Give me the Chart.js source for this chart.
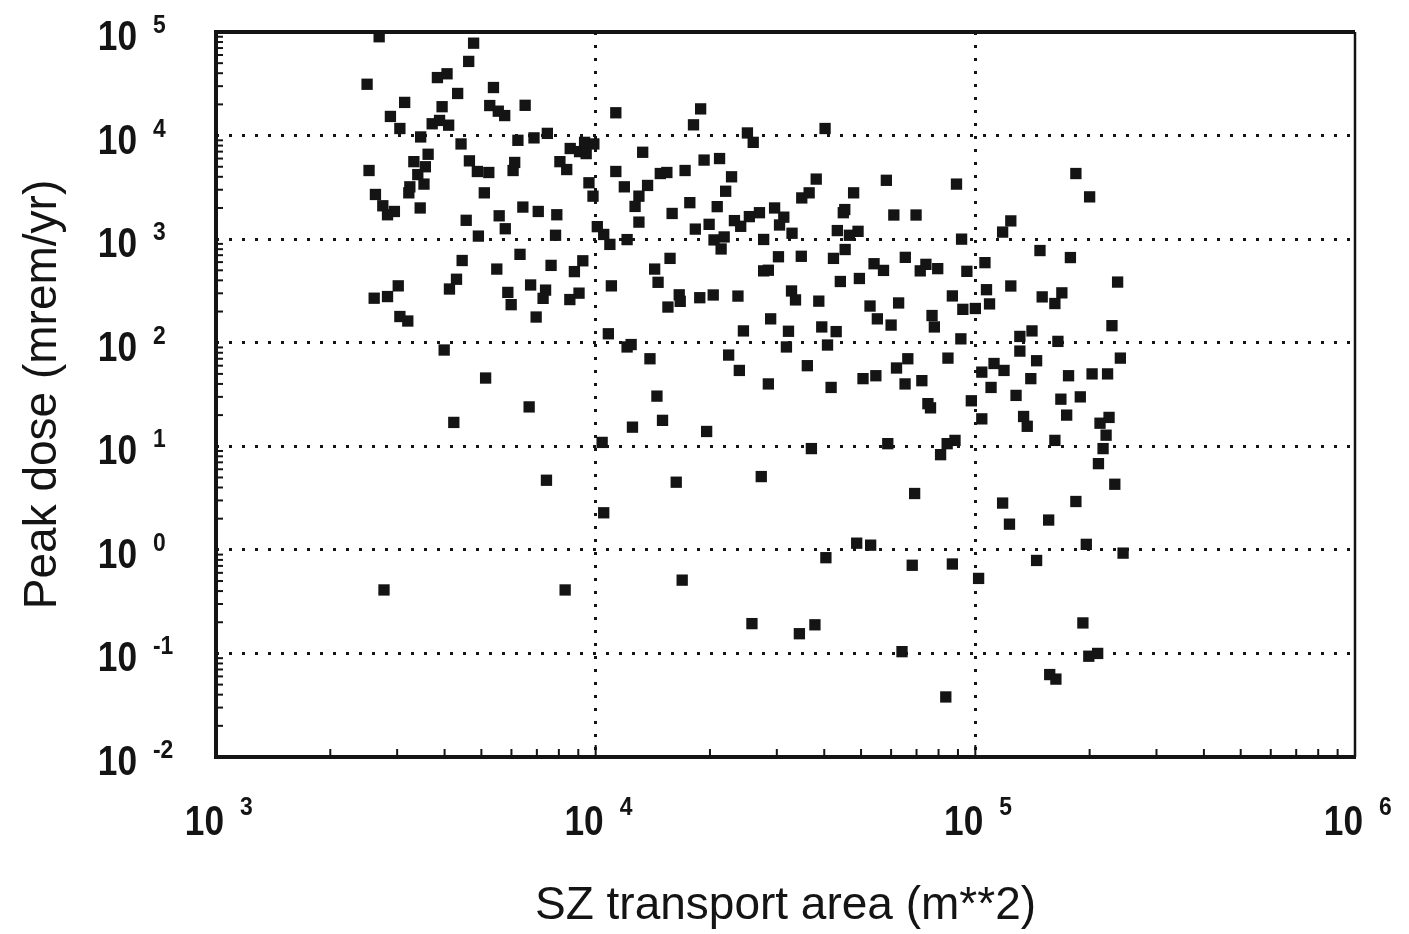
<!DOCTYPE html>
<html>
<head>
<meta charset="utf-8">
<title>Peak dose vs SZ transport area</title>
<script src="https://cdn.jsdelivr.net/npm/chart.js@4.4.0/dist/chart.umd.min.js"></script>
<style>
  html, body { margin: 0; padding: 0; background: #fff; }
  #wrap { width: 1409px; height: 934px; }
</style>
</head>
<body>
<div id="wrap"><canvas id="doseChart"></canvas></div>
<script>
// SZ transport area (m**2), one entry per realization
const area = [
  2.69e3, 4.77e3, 4.63e3, 2.50e3, 3.83e3, 4.06e3, 5.38e3, 4.33e3, 3.14e3, 3.94e3, 5.26e3, 5.54e3,
  5.76e3, 6.52e3, 2.88e3, 3.71e3, 3.88e3, 4.10e3, 3.05e3, 3.46e3, 4.42e3, 6.24e3, 6.88e3, 7.46e3,
  8.57e3, 9.07e3, 9.35e3, 9.89e3, 9.44e3, 1.13e4, 3.62e3, 3.32e3, 4.65e3, 4.88e3, 5.23e3, 6.12e3,
  6.06e3, 8.05e3, 8.39e3, 2.53e3, 3.56e3, 3.40e3, 9.60e3, 9.84e3, 1.13e4, 3.24e3, 3.22e3, 3.53e3,
  5.09e3, 2.63e3, 2.75e3, 2.95e3, 2.83e3, 3.45e3, 6.43e3, 7.06e3, 7.90e3, 5.57e3, 4.56e3, 5.78e3,
  1.01e4, 1.05e4, 1.09e4, 4.91e3, 7.84e3, 6.32e3, 4.45e3, 5.49e3, 7.63e3, 8.79e3, 9.25e3, 4.30e3,
  3.02e3, 2.83e3, 2.61e3, 4.12e3, 5.87e3, 5.99e3, 6.74e3, 7.38e3, 7.27e3, 8.55e3, 9.04e3, 1.10e4,
  3.05e3, 3.20e3, 6.97e3, 1.08e4, 3.99e3, 5.13e3, 6.68e3, 4.23e3, 1.04e4, 7.42e3, 1.05e4, 2.77e3,
  8.31e3, 1.89e4, 1.81e4, 2.51e4, 2.60e4, 4.02e4, 1.33e4, 1.93e4, 2.12e4, 1.48e4, 1.54e4, 1.72e4,
  2.28e4, 1.19e4, 1.37e4, 2.20e4, 3.81e4, 3.49e4, 3.65e4, 4.78e4, 1.30e4, 1.27e4, 1.77e4, 1.59e4,
  2.09e4, 4.53e4, 4.49e4, 2.32e4, 2.41e4, 2.54e4, 2.70e4, 2.96e4, 3.13e4, 3.05e4, 1.30e4, 1.99e4,
  1.83e4, 1.21e4, 2.05e4, 2.18e4, 2.14e4, 2.77e4, 3.29e4, 4.33e4, 4.91e4, 4.66e4, 3.03e4, 3.48e4,
  4.23e4, 4.54e4, 1.57e4, 1.43e4, 2.85e4, 2.77e4, 4.41e4, 4.95e4, 1.46e4, 1.66e4, 1.67e4, 1.55e4,
  1.88e4, 2.04e4, 2.37e4, 3.28e4, 3.36e4, 3.87e4, 2.89e4, 2.45e4, 3.22e4, 3.94e4, 4.30e4, 1.21e4,
  1.24e4, 1.39e4, 3.18e4, 4.08e4, 2.24e4, 2.39e4, 3.61e4, 2.85e4, 4.17e4, 5.06e4, 1.45e4, 1.50e4,
  1.25e4, 1.96e4, 3.70e4, 2.73e4, 1.63e4, 1.69e4, 4.04e4, 4.87e4, 2.58e4, 3.44e4, 3.78e4, 1.84e5,
  2.00e5, 5.83e4, 8.92e4, 6.10e4, 6.98e4, 9.20e4, 1.24e5, 1.18e5, 1.48e5, 1.78e5, 6.54e4, 5.41e4,
  5.73e4, 7.16e4, 7.41e4, 7.96e4, 9.50e4, 1.06e5, 1.24e5, 2.37e5, 1.07e5, 1.50e5, 1.69e5, 1.62e5,
  8.70e4, 6.28e4, 5.28e4, 1.09e5, 9.27e4, 1.00e5, 5.52e4, 6.00e4, 7.69e4, 7.80e4, 2.29e5, 1.41e5,
  1.31e5, 9.16e4, 1.65e5, 1.31e5, 8.47e4, 1.45e5, 2.41e5, 6.64e4, 6.20e4, 1.12e5, 1.19e5, 1.04e5,
  5.47e4, 1.40e5, 1.76e5, 2.03e5, 2.23e5, 6.53e4, 7.23e4, 1.10e5, 1.28e5, 1.68e5, 1.89e5, 9.76e4,
  7.50e4, 7.62e4, 1.74e5, 1.04e5, 1.34e5, 1.37e5, 2.25e5, 2.13e5, 2.21e5, 1.62e5, 5.88e4, 8.84e4,
  8.43e4, 8.10e4, 2.17e5, 2.11e5, 2.33e5, 6.92e4, 1.18e5, 1.84e5, 1.56e5, 1.23e5, 5.30e4, 6.82e4,
  8.70e4, 1.02e5, 1.45e5, 1.96e5, 2.45e5, 1.92e5, 6.41e4, 1.57e5, 1.63e5, 1.99e5, 2.10e5, 8.36e4
];

// Peak dose (mrem/yr), same order as area
const dose = [
  9.0e4, 7.8e4, 5.2e4, 3.13e4, 3.63e4, 3.95e4, 2.91e4, 2.55e4, 2.09e4, 1.90e4, 1.95e4, 1.72e4,
  1.56e4, 1.96e4, 1.53e4, 1.30e4, 1.40e4, 1.26e4, 1.17e4, 9.7e3, 8.3e3, 9.0e3, 9.5e3, 1.05e4,
  7.5e3, 7.0e3, 8.6e3, 8.3e3, 6.7e3, 1.66e4, 6.6e3, 5.6e3, 5.7e3, 4.5e3, 4.4e3, 5.5e3,
  4.6e3, 5.6e3, 4.7e3, 4.6e3, 5.0e3, 4.2e3, 3.5e3, 2.6e3, 4.5e3, 3.2e3, 2.8e3, 3.4e3,
  2.8e3, 2.7e3, 2.1e3, 1.85e3, 1.72e3, 2.0e3, 2.04e3, 1.85e3, 1.72e3, 1.68e3, 1.52e3, 1.26e3,
  1.32e3, 1.11e3, 890, 1.07e3, 1.09e3, 713, 622, 514, 558, 486, 618, 410,
  354, 279, 269, 330, 306, 233, 361, 322, 268, 261, 301, 354,
  179, 162, 177, 122, 85, 45.6, 24, 17, 10.9, 4.7, 2.28, 0.41,
  0.41, 1.81e4, 1.27e4, 1.06e4, 8.6e3, 1.17e4, 6.9e3, 5.8e3, 6.0e3, 4.3e3, 4.4e3, 4.6e3,
  4.0e3, 3.2e3, 3.3e3, 2.9e3, 3.8e3, 2.5e3, 2.8e3, 2.8e3, 2.6e3, 2.07e3, 2.25e3, 1.77e3,
  2.06e3, 1.93e3, 1.80e3, 1.51e3, 1.33e3, 1.65e3, 1.80e3, 2.0e3, 1.63e3, 1.37e3, 1.46e3, 1.39e3,
  1.25e3, 990, 983, 1.05e3, 804, 993, 1.14e3, 1.21e3, 1.19e3, 1.09e3, 676, 683,
  652, 794, 652, 514, 501, 494, 390, 417, 383, 290, 251, 221,
  272, 289, 282, 316, 259, 252, 170, 130, 129, 142, 128, 91,
  96, 70, 91, 95, 76, 54, 60, 40, 37, 45, 30.5, 17.8,
  15.3, 13.9, 9.5, 5.1, 4.5, 0.51, 0.84, 1.16, 0.194, 0.155, 0.189, 4.3e3,
  2.56e3, 3.7e3, 3.4e3, 1.71e3, 1.71e3, 1.0e3, 1.5e3, 1.17e3, 776, 664, 667, 579,
  499, 494, 571, 519, 489, 593, 353, 385, 325, 277, 303, 239,
  283, 242, 226, 237, 210, 214, 170, 148, 183, 142, 146, 130,
  115, 109, 103, 83, 71, 67, 71, 70, 57, 63, 54, 52,
  48, 45, 48, 50, 50, 40, 43, 37, 31, 28.5, 30, 27.5,
  25.8, 23.5, 20, 18.4, 19.4, 15.6, 19, 16.7, 12.8, 11.4, 10.6, 11.4,
  10.6, 8.3, 9.5, 6.8, 4.3, 3.5, 2.83, 2.93, 1.94, 1.77, 1.11, 0.71,
  0.73, 0.53, 0.79, 1.13, 0.93, 0.197, 0.104, 0.0625, 0.0565, 0.094, 0.1, 0.038
];

// decade ticks and their exponents
const xDecades = [1e3, 1e4, 1e5, 1e6];
const xExponents = ['3', '4', '5', '6'];
const yDecades = [1e-2, 1e-1, 1e0, 1e1, 1e2, 1e3, 1e4, 1e5];
const yExponents = ['-2', '-1', '0', '1', '2', '3', '4', '5'];

const INK = '#141414';
const FONT = '"Liberation Sans", Arial, Helvetica, sans-serif';

const points = area.map((a, i) => ({ x: a, y: dose[i] }));

// draw "10" with a raised exponent, slightly condensed like the original print
function drawPower(ctx, rightOfTen, baseline, leftOfExp, expBaseline, exp) {
    ctx.save();
    ctx.translate(rightOfTen, baseline);
    ctx.scale(0.84, 1);
    ctx.font = 'bold 42px ' + FONT;
    ctx.textAlign = 'right';
    ctx.textBaseline = 'alphabetic';
    ctx.fillText('10', 0, 0);
    ctx.restore();

    ctx.save();
    ctx.translate(leftOfExp, expBaseline);
    ctx.scale(0.88, 1);
    ctx.font = 'bold 26px ' + FONT;
    ctx.textAlign = 'left';
    ctx.textBaseline = 'alphabetic';
    ctx.fillText(exp, 0, 0);
    ctx.restore();
}

const paperPlugin = {
    id: 'paper',
    beforeDatasetsDraw(chart) {
        const { ctx, chartArea: a, scales: { x, y } } = chart;
        ctx.save();
        ctx.strokeStyle = INK;
        ctx.lineWidth = 2;

        // minor ticks along the bottom axis, pointing in
        xDecades.slice(0, -1).forEach(d => {
            for (let k = 2; k <= 9; k++) {
                const px = x.getPixelForValue(d * k);
                ctx.beginPath();
                ctx.moveTo(px, a.bottom);
                ctx.lineTo(px, a.bottom - 8);
                ctx.stroke();
            }
        });
        [1e4, 1e5].forEach(d => {
            const px = x.getPixelForValue(d);
            ctx.beginPath();
            ctx.moveTo(px, a.bottom);
            ctx.lineTo(px, a.bottom - 12);
            ctx.stroke();
        });

        // minor ticks along the left axis
        yDecades.slice(0, -1).forEach(d => {
            for (let k = 2; k <= 9; k++) {
                const py = y.getPixelForValue(d * k);
                ctx.beginPath();
                ctx.moveTo(a.left, py);
                ctx.lineTo(a.left + 7, py);
                ctx.stroke();
            }
        });

        // frame
        ctx.lineWidth = 4;
        ctx.beginPath();
        ctx.moveTo(a.left, a.bottom + 2);
        ctx.lineTo(a.left, a.top);
        ctx.lineTo(a.right, a.top);
        ctx.stroke();
        ctx.beginPath();
        ctx.moveTo(a.left - 2, a.bottom);
        ctx.lineTo(a.right + 1, a.bottom);
        ctx.stroke();
        ctx.lineWidth = 2.5;
        ctx.beginPath();
        ctx.moveTo(a.right, a.top);
        ctx.lineTo(a.right, a.bottom);
        ctx.stroke();
        ctx.restore();
    },
    afterDraw(chart) {
        const { ctx, chartArea: a, scales: { x, y } } = chart;
        ctx.save();
        ctx.fillStyle = INK;
        yDecades.forEach((d, i) => {
            const py = y.getPixelForValue(d);
            drawPower(ctx, 137, py + 18, 153, py + 1, yExponents[i]);
        });
        xDecades.forEach((d, i) => {
            const px = x.getPixelForValue(d);
            drawPower(ctx, px + 8, a.bottom + 78, px + 24, a.bottom + 58, xExponents[i]);
        });
        ctx.restore();
    }
};

const interiorOnly = (decades) => (c) => {
    const v = c.tick ? c.tick.value : null;
    return (v === decades[0] || v === decades[decades.length - 1]) ? 'rgba(0,0,0,0)' : INK;
};

new Chart(document.getElementById('doseChart'), {
    type: 'scatter',
    data: {
        datasets: [{
            label: 'Peak dose',
            data: points,
            pointStyle: 'rect',
            pointRadius: 8,
            pointHoverRadius: 8,
            backgroundColor: INK,
            borderWidth: 0,
            clip: false
        }]
    },
    options: {
        responsive: true,
        maintainAspectRatio: false,
        animation: false,
        layout: { padding: { top: 32, right: 54, left: 0, bottom: 0 } },
        plugins: {
            legend: { display: false },
            tooltip: { enabled: false }
        },
        scales: {
            x: {
                type: 'logarithmic',
                min: 1e3,
                max: 1e6,
                afterBuildTicks: s => { s.ticks = xDecades.map(v => ({ value: v })); },
                afterFit: s => { s.height = 177; },
                ticks: { display: false },
                grid: { drawTicks: false, lineWidth: 3, color: interiorOnly(xDecades) },
                border: { display: false, dash: [3, 10] },
                title: {
                    display: true,
                    text: 'SZ transport area (m**2)',
                    color: INK,
                    font: { family: FONT, size: 46 },
                    padding: { top: 0, bottom: 0 }
                }
            },
            y: {
                type: 'logarithmic',
                min: 1e-2,
                max: 1e5,
                afterBuildTicks: s => { s.ticks = yDecades.map(v => ({ value: v })); },
                afterFit: s => { s.width = 216; },
                ticks: { display: false },
                grid: { drawTicks: false, lineWidth: 3, color: interiorOnly(yDecades) },
                border: { display: false, dash: [3, 10] },
                title: {
                    display: true,
                    text: 'Peak dose (mrem/yr)',
                    color: INK,
                    font: { family: FONT, size: 46 },
                    padding: { top: 16, bottom: 0 }
                }
            }
        }
    },
    plugins: [paperPlugin]
});
</script>
</body>
</html>
